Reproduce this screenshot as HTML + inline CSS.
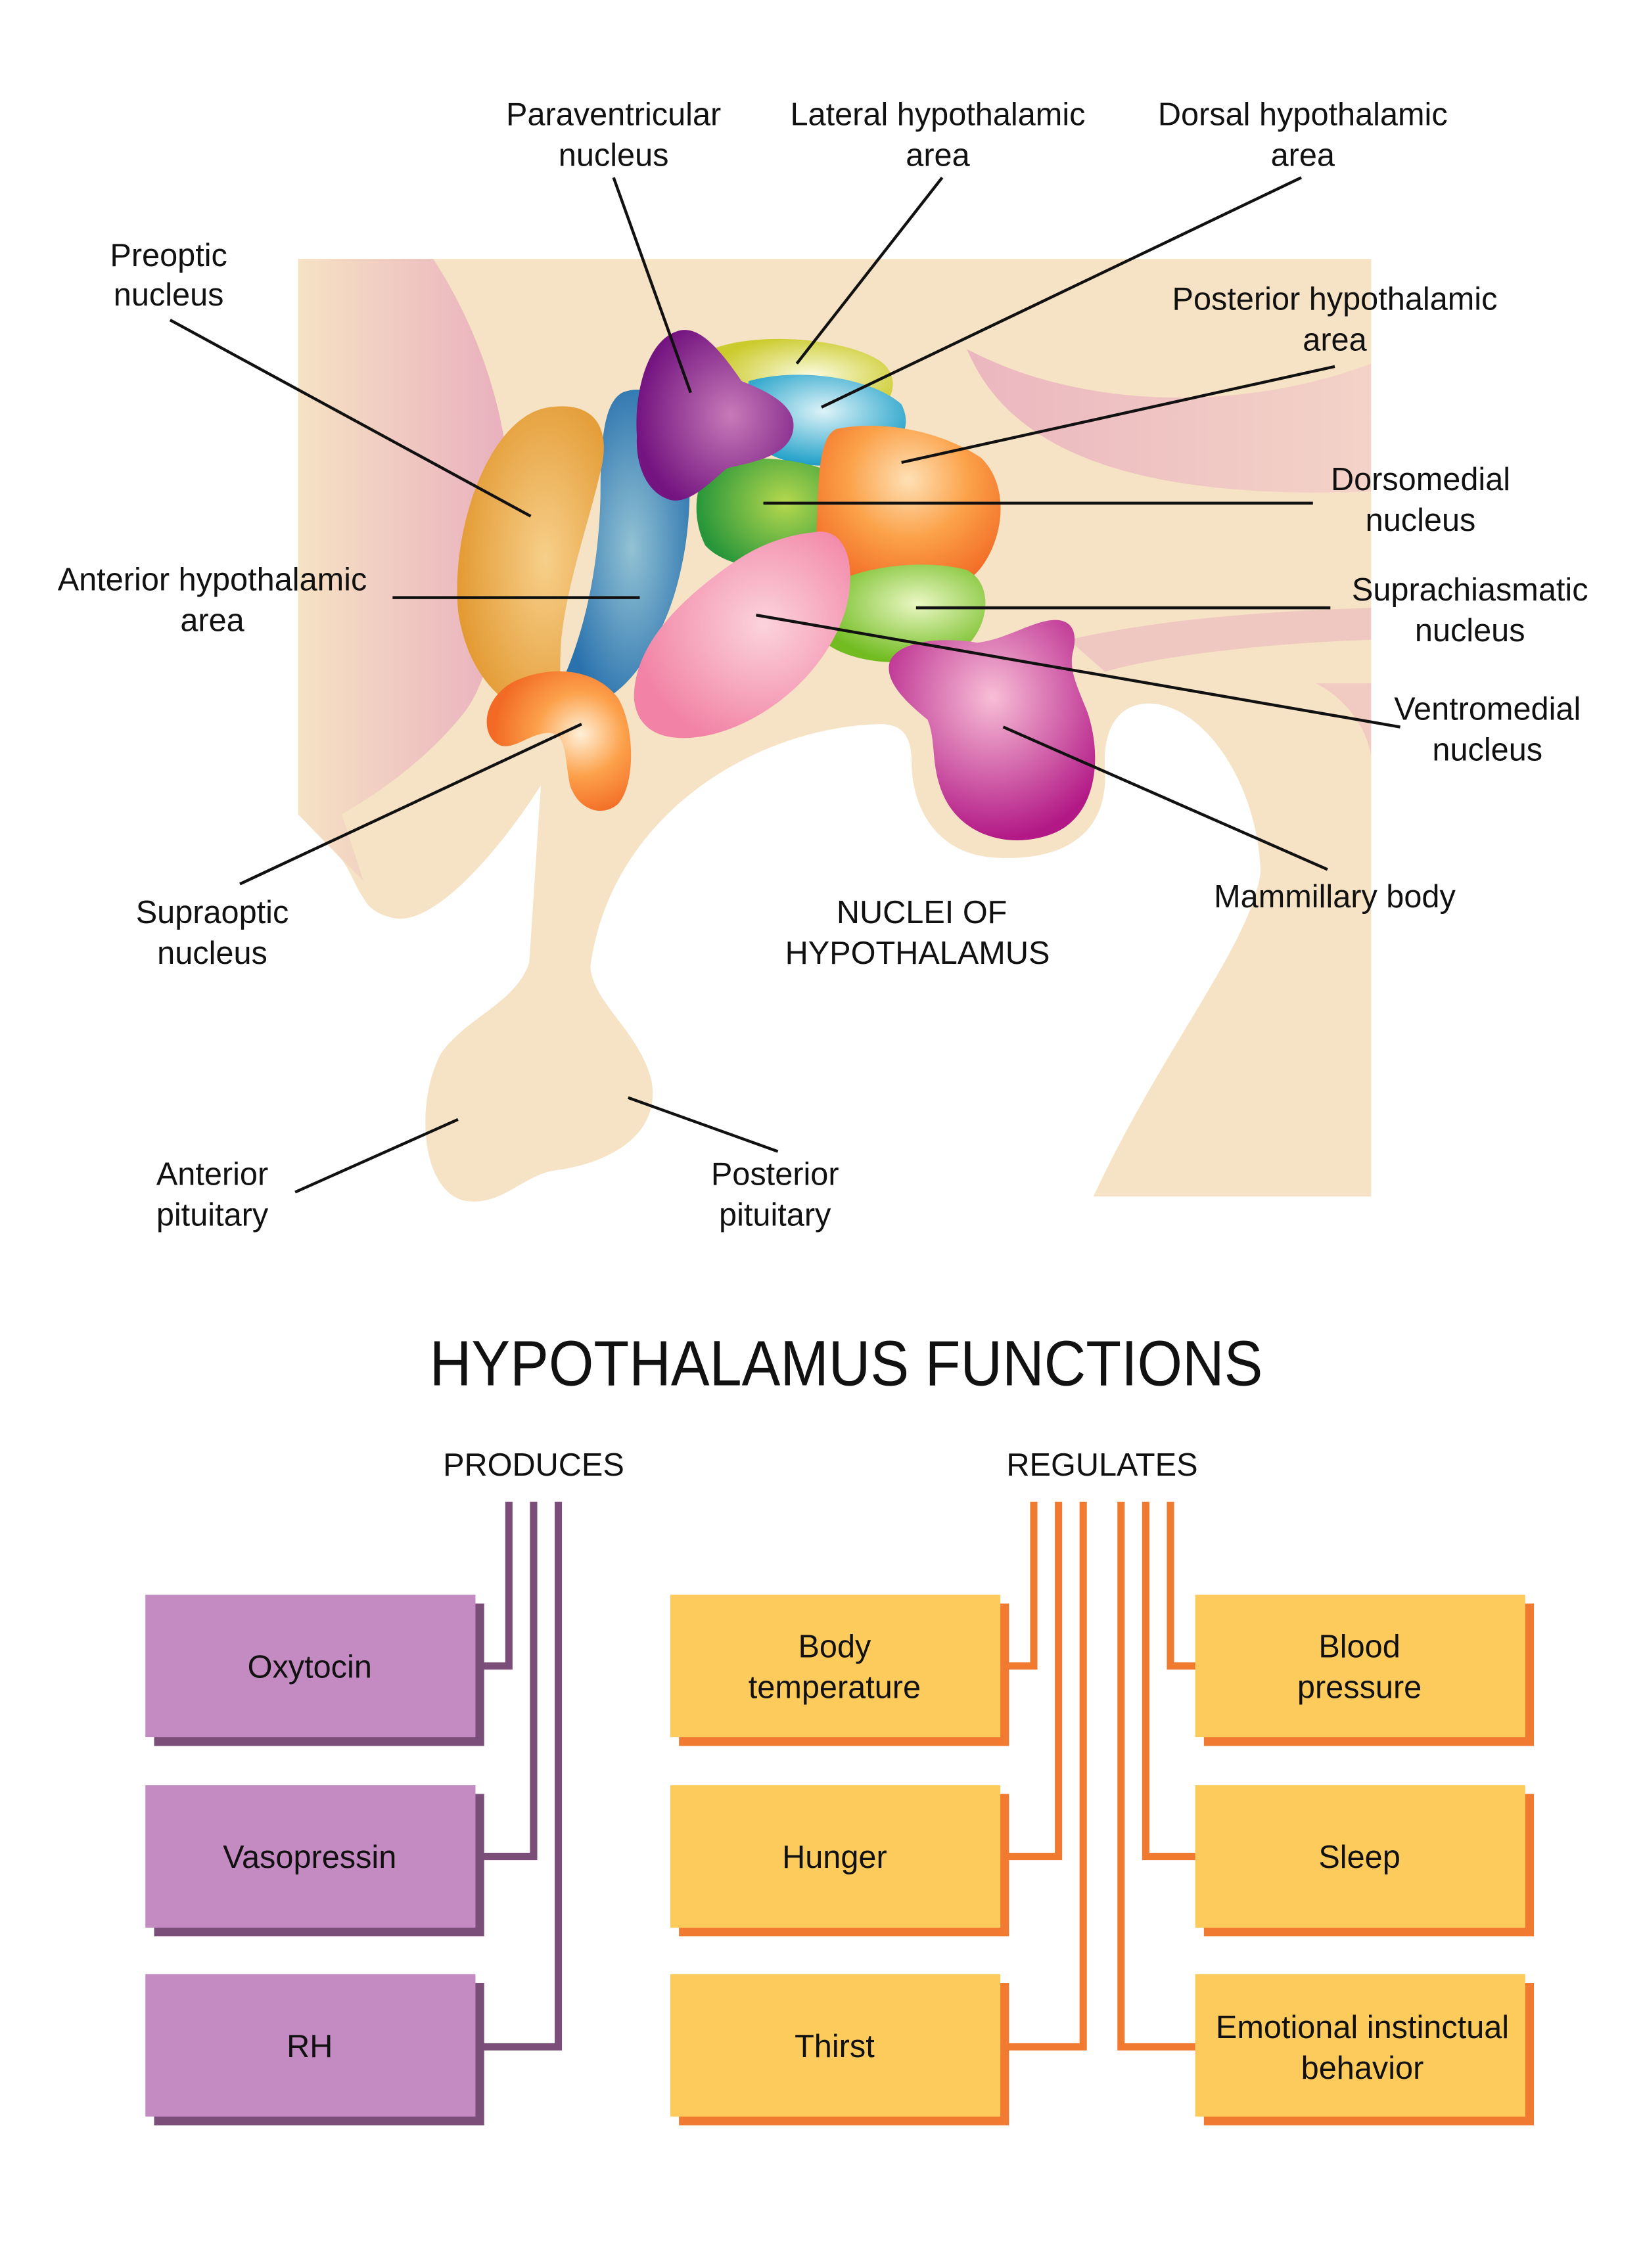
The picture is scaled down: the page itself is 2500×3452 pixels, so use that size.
<!DOCTYPE html>
<html><head><meta charset="utf-8"><style>
html,body{margin:0;padding:0;background:#fff;}
svg{display:block;}
text{font-family:"Liberation Sans",sans-serif;fill:#111;}
</style></head><body>
<svg width="2500" height="3452" viewBox="0 0 1130 1560" xmlns="http://www.w3.org/2000/svg">
<defs>
<linearGradient id="pinkL" x1="0" y1="0" x2="1" y2="0"><stop offset="0" stop-color="#F6E2C4"/><stop offset="1" stop-color="#E9AFBE"/></linearGradient>
<linearGradient id="pinkR" x1="0" y1="0" x2="1" y2="0"><stop offset="0" stop-color="#E9AFBE"/><stop offset="1" stop-color="#F3D0C8"/></linearGradient>
<radialGradient id="gOr" cx="0.6" cy="0.5" r="0.6"><stop offset="0" stop-color="#F7CF8A"/><stop offset="1" stop-color="#E39A33"/></radialGradient>
<radialGradient id="gBl" cx="0.55" cy="0.5" r="0.55"><stop offset="0" stop-color="#92C2D4"/><stop offset="1" stop-color="#2A72AE"/></radialGradient>
<radialGradient id="gPu" cx="0.6" cy="0.5" r="0.6"><stop offset="0" stop-color="#C77AB8"/><stop offset="1" stop-color="#731480"/></radialGradient>
<radialGradient id="gYe" cx="0.55" cy="0.5" r="0.55"><stop offset="0" stop-color="#FBFBE0"/><stop offset="1" stop-color="#CCCB2E"/></radialGradient>
<radialGradient id="gCy" cx="0.5" cy="0.4" r="0.6"><stop offset="0" stop-color="#DDF3F8"/><stop offset="1" stop-color="#1E9FC8"/></radialGradient>
<radialGradient id="gGr" cx="0.7" cy="0.4" r="0.7"><stop offset="0" stop-color="#B5D84E"/><stop offset="1" stop-color="#27963A"/></radialGradient>
<radialGradient id="gPo" cx="0.5" cy="0.3" r="0.65"><stop offset="0" stop-color="#FEE0B5"/><stop offset="0.5" stop-color="#FBA24A"/><stop offset="1" stop-color="#F26A25"/></radialGradient>
<radialGradient id="gPk" cx="0.6" cy="0.45" r="0.6"><stop offset="0" stop-color="#FBD3DC"/><stop offset="1" stop-color="#F283A6"/></radialGradient>
<radialGradient id="gLg" cx="0.6" cy="0.4" r="0.6"><stop offset="0" stop-color="#EAF7C3"/><stop offset="1" stop-color="#72BC22"/></radialGradient>
<radialGradient id="gMa" cx="0.5" cy="0.35" r="0.65"><stop offset="0" stop-color="#F8BED6"/><stop offset="1" stop-color="#B21886"/></radialGradient>
<radialGradient id="gSo" cx="0.65" cy="0.45" r="0.6"><stop offset="0" stop-color="#FFF0D8"/><stop offset="0.5" stop-color="#FCA14B"/><stop offset="1" stop-color="#F26A25"/></radialGradient>
</defs>

<!-- beige base -->
<path fill="#F6E2C4" d="M205,178 H943 V823 H752 C800,720 860,650 867,600 C865,540 830,488 794,484 C770,482 758,500 760,530 C762,575 730,592 686,590 C640,588 627,550 627,525 C627,505 620,498 605,498 C520,500 420,560 406,665 C408,690 440,710 448,743 C455,780 420,800 382,805 C360,808 345,830 320,826 C290,820 285,760 303,725 C320,700 355,690 364,662 L372,540 C350,575 300,640 269,631 C245,625 245,600 232,588 L205,560 Z"/>
<!-- pink left -->
<path fill="url(#pinkL)" d="M205,178 H298 C335,235 352,300 350,350 C348,420 335,470 320,489 C300,515 270,540 235,560 L250,606 L205,560 Z"/>
<path fill="#F6E2C4" d="M250,606 C262,570 310,520 360,500 L372,540 C350,575 300,640 269,631 C252,627 246,615 250,606 Z"/>
<!-- pink right -->
<path fill="url(#pinkR)" d="M665,240 C690,300 760,345 943,338 V250 C850,285 740,280 665,240 Z" opacity="0.85"/>
<path fill="#EFC2C2" d="M735,440 C800,425 880,420 943,418 V440 C880,442 800,450 760,462 Z" opacity="0.8"/>
<path fill="#EFC2C2" d="M905,470 C925,480 940,500 943,520 V470 Z" opacity="0.7"/>

<!-- nuclei -->
<path fill="url(#gYe)" d="M490,240 C520,228 580,232 605,248 C620,258 615,278 600,284 L500,280 Z"/>
<path fill="url(#gCy)" d="M515,262 C550,252 600,260 620,278 C630,298 615,315 575,320 C540,322 515,310 510,290 Z"/>
<path fill="url(#gGr)" d="M490,320 C510,312 545,315 565,322 L566,388 C540,395 500,392 485,375 C475,355 478,330 490,320 Z"/>
<path fill="url(#gPo)" d="M575,295 C610,288 650,298 675,315 C695,335 690,370 675,390 C660,410 620,420 590,415 C565,410 560,380 562,355 C563,320 565,300 575,295 Z"/>
<path fill="url(#gLg)" d="M575,400 C600,388 640,385 665,392 C685,402 680,435 660,448 C630,460 585,458 565,440 C558,425 562,408 575,400 Z"/>
<path fill="url(#gBl)" d="M428,270 C445,263 462,275 470,292 C478,330 475,380 460,420 C445,458 428,478 405,486 L386,470 C402,435 412,390 413,340 C413,305 415,277 428,270 Z"/>
<path fill="url(#gOr)" d="M378,280 C405,276 420,290 414,320 C405,360 390,400 386,440 C384,465 388,480 378,490 C355,495 322,470 315,420 C310,360 338,285 378,280 Z"/>
<path fill="url(#gPu)" d="M465,228 C480,222 495,240 510,262 C530,270 550,280 545,298 C540,315 515,318 500,322 C488,332 475,346 462,344 C445,340 437,320 438,300 C436,270 445,235 465,228 Z"/>
<path fill="url(#gPk)" d="M560,366 C580,362 590,385 582,418 C570,460 530,495 490,505 C460,512 438,505 436,480 C436,445 465,415 500,390 C520,375 540,368 560,366 Z"/>
<path fill="url(#gMa)" d="M720,427 C735,424 742,432 738,448 C735,460 740,470 748,490 C758,520 755,560 725,573 C695,585 660,575 648,545 C640,525 644,510 638,495 C622,482 608,468 612,455 C618,440 650,438 672,442 C690,440 705,430 720,427 Z"/>
<path fill="url(#gSo)" d="M355,468 C380,457 410,460 425,480 C437,500 437,540 425,553 C415,562 398,558 392,540 C388,520 390,505 378,504 C365,504 355,515 345,513 C330,508 330,480 355,468 Z"/>

<!-- leader lines -->
<g stroke="#111" stroke-width="2" fill="none">
<line x1="117" y1="220" x2="365" y2="355"/>
<line x1="422" y1="122" x2="475" y2="270"/>
<line x1="648" y1="122" x2="548" y2="250"/>
<line x1="895" y1="122" x2="565" y2="280"/>
<line x1="918" y1="252" x2="620" y2="318"/>
<line x1="903" y1="346" x2="525" y2="346"/>
<line x1="270" y1="411" x2="440" y2="411"/>
<line x1="915" y1="418" x2="630" y2="418"/>
<line x1="963" y1="500" x2="520" y2="423"/>
<line x1="165" y1="608" x2="400" y2="498"/>
<line x1="913" y1="598" x2="690" y2="500"/>
<line x1="203" y1="820" x2="315" y2="770"/>
<line x1="535" y1="792" x2="432" y2="755"/>
</g>

<g font-size="22" text-anchor="middle">
<text x="116" y="183">Preoptic</text><text x="116" y="210">nucleus</text>
<text x="422" y="86">Paraventricular</text><text x="422" y="114">nucleus</text>
<text x="645" y="86">Lateral hypothalamic</text><text x="645" y="114">area</text>
<text x="896" y="86">Dorsal hypothalamic</text><text x="896" y="114">area</text>
<text x="918" y="213">Posterior hypothalamic</text><text x="918" y="241">area</text>
<text x="977" y="337">Dorsomedial</text><text x="977" y="365">nucleus</text>
<text x="146" y="406">Anterior hypothalamic</text><text x="146" y="434">area</text>
<text x="1011" y="413">Suprachiasmatic</text><text x="1011" y="441">nucleus</text>
<text x="1023" y="495">Ventromedial</text><text x="1023" y="523">nucleus</text>
<text x="146" y="635">Supraoptic</text><text x="146" y="663">nucleus</text>
<text x="918" y="624">Mammillary body</text>
<text x="634" y="635">NUCLEI OF</text><text x="631" y="663">HYPOTHALAMUS</text>
<text x="146" y="815">Anterior</text><text x="146" y="843">pituitary</text>
<text x="533" y="815">Posterior</text><text x="533" y="843">pituitary</text>
</g>

<text x="582" y="953" font-size="44" text-anchor="middle" textLength="573" lengthAdjust="spacingAndGlyphs">HYPOTHALAMUS FUNCTIONS</text>
<text x="367" y="1015" font-size="22" text-anchor="middle">PRODUCES</text>
<text x="758" y="1015" font-size="22" text-anchor="middle">REGULATES</text>

<!-- connectors -->
<g fill="none" stroke-width="5">
<g stroke="#7A4E78">
<polyline points="350,1033 350,1146 330,1146"/>
<polyline points="367,1033 367,1277 330,1277"/>
<polyline points="384,1033 384,1408 330,1408"/>
</g>
<g stroke="#F07A30">
<polyline points="711,1033 711,1146 690,1146"/>
<polyline points="728,1033 728,1277 690,1277"/>
<polyline points="745,1033 745,1408 690,1408"/>
<polyline points="805,1033 805,1146 825,1146"/>
<polyline points="788,1033 788,1277 825,1277"/>
<polyline points="771,1033 771,1408 825,1408"/>
</g>
</g>

<!-- boxes -->
<g>
<rect x="106" y="1103" width="227" height="98" fill="#7A4E78"/><rect x="100" y="1097" width="227" height="98" fill="#C48BC2"/>
<rect x="106" y="1234" width="227" height="98" fill="#7A4E78"/><rect x="100" y="1228" width="227" height="98" fill="#C48BC2"/>
<rect x="106" y="1364" width="227" height="98" fill="#7A4E78"/><rect x="100" y="1358" width="227" height="98" fill="#C48BC2"/>
<rect x="467" y="1103" width="227" height="98" fill="#F07A30"/><rect x="461" y="1097" width="227" height="98" fill="#FCCB5C"/>
<rect x="467" y="1234" width="227" height="98" fill="#F07A30"/><rect x="461" y="1228" width="227" height="98" fill="#FCCB5C"/>
<rect x="467" y="1364" width="227" height="98" fill="#F07A30"/><rect x="461" y="1358" width="227" height="98" fill="#FCCB5C"/>
<rect x="828" y="1103" width="227" height="98" fill="#F07A30"/><rect x="822" y="1097" width="227" height="98" fill="#FCCB5C"/>
<rect x="828" y="1234" width="227" height="98" fill="#F07A30"/><rect x="822" y="1228" width="227" height="98" fill="#FCCB5C"/>
<rect x="828" y="1364" width="227" height="98" fill="#F07A30"/><rect x="822" y="1358" width="227" height="98" fill="#FCCB5C"/>
</g>
<g font-size="22" text-anchor="middle">
<text x="213" y="1154">Oxytocin</text>
<text x="213" y="1285">Vasopressin</text>
<text x="213" y="1415">RH</text>
<text x="574" y="1140">Body</text><text x="574" y="1168">temperature</text>
<text x="574" y="1285">Hunger</text>
<text x="574" y="1415">Thirst</text>
<text x="935" y="1140">Blood</text><text x="935" y="1168">pressure</text>
<text x="935" y="1285">Sleep</text>
<text x="937" y="1402">Emotional instinctual</text><text x="937" y="1430">behavior</text>
</g>
</svg>
</body></html>
